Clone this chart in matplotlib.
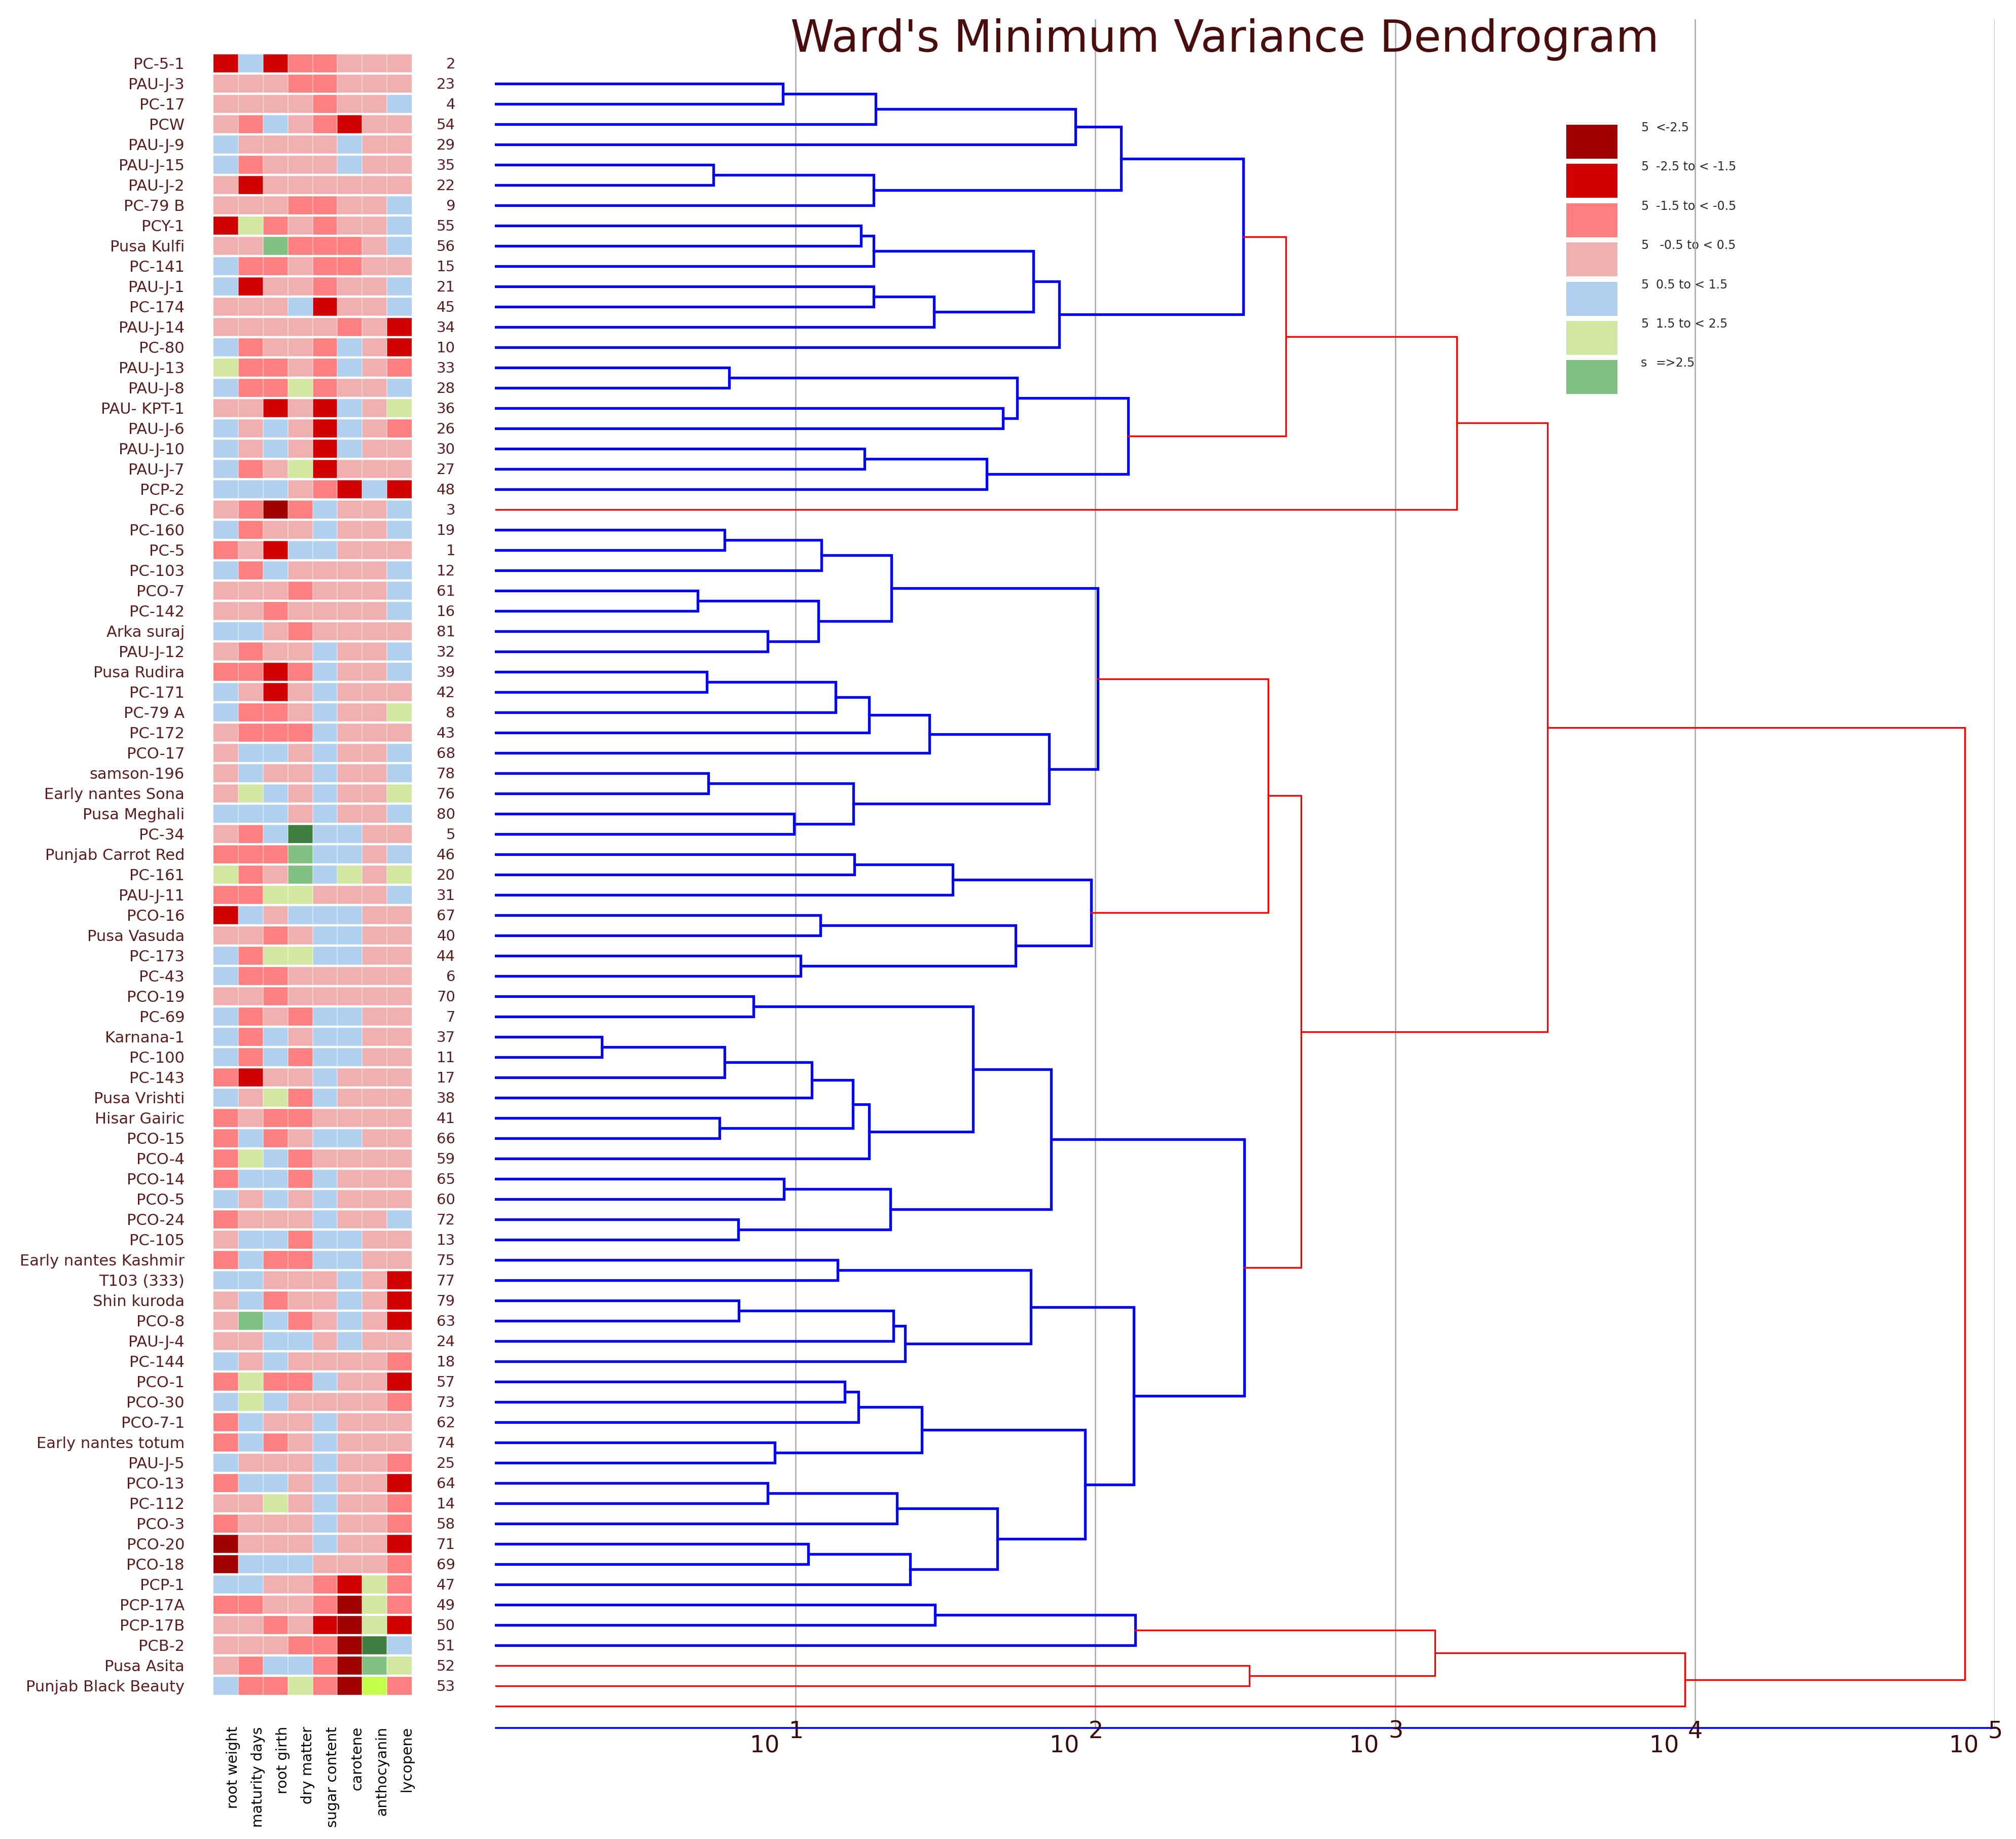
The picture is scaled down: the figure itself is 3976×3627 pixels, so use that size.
"""
Ward's minimum variance dendrogram with the standardised trait table beside it.

The table shows, for each genotype, the z-score class of eight root traits.
The tree is drawn by hand from a merge list (no scipy needed).
"""

import matplotlib
matplotlib.use("Agg")
import matplotlib.pyplot as plt
import numpy as np
from matplotlib.colors import BoundaryNorm, ListedColormap
from matplotlib.patches import Rectangle
from matplotlib.transforms import blended_transform_factory, offset_copy


TITLE = "Ward's Minimum Variance Dendrogram"

GENOTYPES = [
    "PC-5-1", "PAU-J-3", "PC-17", "PCW", "PAU-J-9", "PAU-J-15", "PAU-J-2", "PC-79 B",
    "PCY-1", "Pusa Kulfi", "PC-141", "PAU-J-1", "PC-174", "PAU-J-14", "PC-80",
    "PAU-J-13", "PAU-J-8", "PAU- KPT-1", "PAU-J-6", "PAU-J-10", "PAU-J-7", "PCP-2",
    "PC-6", "PC-160", "PC-5", "PC-103", "PCO-7", "PC-142", "Arka suraj", "PAU-J-12",
    "Pusa Rudira", "PC-171", "PC-79 A", "PC-172", "PCO-17", "samson-196",
    "Early nantes Sona", "Pusa Meghali", "PC-34", "Punjab Carrot Red", "PC-161",
    "PAU-J-11", "PCO-16", "Pusa Vasuda", "PC-173", "PC-43", "PCO-19", "PC-69",
    "Karnana-1", "PC-100", "PC-143", "Pusa Vrishti", "Hisar Gairic", "PCO-15",
    "PCO-4", "PCO-14", "PCO-5", "PCO-24", "PC-105", "Early nantes Kashmir",
    "T103 (333)", "Shin kuroda", "PCO-8", "PAU-J-4", "PC-144", "PCO-1", "PCO-30",
    "PCO-7-1", "Early nantes totum", "PAU-J-5", "PCO-13", "PC-112", "PCO-3",
    "PCO-20", "PCO-18", "PCP-1", "PCP-17A", "PCP-17B", "PCB-2", "Pusa Asita",
    "Punjab Black Beauty",
]

# serial number printed at the right of each row
CODES = [
    2, 23, 4, 54, 29, 35, 22, 9, 55, 56, 15, 21, 45, 34, 10, 33, 28, 36, 26, 30,
    27, 48, 3, 19, 1, 12, 61, 16, 81, 32, 39, 42, 8, 43, 68, 78, 76, 80, 5, 46,
    20, 31, 67, 40, 44, 6, 70, 7, 37, 11, 17, 38, 41, 66, 59, 65, 60, 72, 13, 75,
    77, 79, 63, 24, 18, 57, 73, 62, 74, 25, 64, 14, 58, 71, 69, 47, 49, 50, 51,
    52, 53,
]

TRAITS = ["root weight", "maturity days", "root girth", "dry matter",
          "sugar content", "carotene", "anthocyanin", "lycopene"]

# z-score class of each cell, one digit per trait:
# 0 <-2.5, 1 -2.5..-1.5, 2 -1.5..-0.5, 3 -0.5..0.5, 4 0.5..1.5, 5 1.5..2.5,
# 6 =>2.5, 7 and 8 are the two extra greens seen in the table
CELLS = [
    "14122333", "33322333", "33332334", "32432133", "43333433", "42333433",
    "31333333", "33322334", "15232334", "33622234", "42232233", "41332334",
    "33341334", "33333231", "42332431", "52232432", "42252334", "33131435",
    "43431432", "43431433", "42351333", "44432141", "32024334", "42334334",
    "23144333", "42433334", "33323334", "33233334", "44323333", "32334334",
    "22124334", "43134333", "42234335", "32224333", "34434334", "34334334",
    "35434335", "44434334", "32474433", "22264434", "52364535", "22553334",
    "14344433", "33234433", "42554433", "42233333", "33233333", "42324433",
    "42434433", "42424433", "21334333", "43524333", "23223333", "24234433",
    "25423333", "24424333", "43434333", "23334334", "34424433", "24224433",
    "44333431", "34233431", "36423431", "33443433", "43433332", "25224331",
    "45433332", "24334333", "24234333", "43334332", "24434331", "33534332",
    "23334332", "03334331", "04443332", "44332152", "22332052", "33231051",
    "33322074", "32442065", "42252082",
]

BIN_COLORS = ["#a00000", "#d00000", "#ff8080", "#f0b0b0", "#b0d0f0",
              "#d2e8a0", "#80c080", "#3e7e3e", "#c4ff4c"]

LEGEND_PREFIX = ["5", "5", "5", "5", "5", "5", "s"]
LEGEND_LABELS = ["<-2.5", "-2.5 to < -1.5", "-1.5 to < -0.5", " -0.5 to < 0.5",
                 "0.5 to < 1.5", "1.5 to < 2.5", "=>2.5"]

# tree: (name, left, right, height); ints are leaves counted from the top
MERGES = [
    ("a1", 0, 1, 9.08), ("a2", "a1", 2, 18.5), ("a3", "a2", 3, 85.7),
    ("b1", 4, 5, 5.32), ("b2", "b1", 6, 18.2), ("c1", "a3", "b2", 122),
    ("d1", 7, 8, 16.5), ("d2", "d1", 9, 18.2), ("e1", 10, 11, 18.2),
    ("e2", "e1", 12, 28.9), ("f1", "d2", "e2", 62.1), ("f2", "f1", 13, 75.7),
    ("g1", "c1", "f2", 311),
    ("h1", 14, 15, 6.01), ("h2", 16, 17, 49.2), ("h3", "h1", "h2", 54.8),
    ("i1", 18, 19, 17.0), ("i2", "i1", 20, 43.4), ("j1", "h3", "i2", 128.5),
    ("k1", 22, 23, 5.79), ("k2", "k1", 24, 12.2), ("l1", 25, 26, 4.71),
    ("l2", 27, 28, 8.05), ("l3", "l1", "l2", 11.9), ("m1", "k2", "l3", 20.9),
    ("n1", 29, 30, 5.06), ("n2", "n1", 31, 13.6), ("n3", "n2", 32, 17.6),
    ("n4", "n3", 33, 27.9), ("o1", 34, 35, 5.12), ("o2", 36, 37, 9.89),
    ("o3", "o1", "o2", 15.6), ("p1", "n4", "o3", 70.0), ("q1", "m1", "p1", 102),
    ("r1", 38, 39, 15.7), ("r2", "r1", 40, 33.4), ("s1", 41, 42, 12.1),
    ("s2", 43, 44, 10.4), ("s3", "s1", "s2", 54.2), ("t1", "r2", "s3", 96.6),
    ("qt", "q1", "t1", 377),
    ("u1", 45, 46, 7.24), ("u2", 47, 48, 2.26), ("u3", "u2", 49, 5.79),
    ("u4", "u3", 50, 11.3), ("u5", 51, 52, 5.58), ("u6", "u4", "u5", 15.5),
    ("u7", "u6", 53, 17.6), ("u8", "u1", "u7", 39.0),
    ("v1", 54, 55, 9.14), ("v2", 56, 57, 6.43), ("v3", "v1", "v2", 20.7),
    ("w1", "u8", "v3", 71.1),
    ("x1", 58, 59, 13.8), ("x2", 60, 61, 6.46), ("x3", "x2", 62, 21.2),
    ("x4", "x3", 63, 23.2), ("x5", "x1", "x4", 61.0),
    ("y1", 64, 65, 14.6), ("y2", "y1", 66, 16.2), ("y3", 67, 68, 8.53),
    ("y4", "y2", "y3", 26.4), ("z1", 69, 70, 8.05), ("z2", "z1", 71, 21.8),
    ("z3", 72, 73, 11.0), ("z4", "z3", 74, 24.1), ("z5", "z2", "z4", 47.0),
    ("aa1", "y4", "z5", 92.3), ("aa2", "x5", "aa1", 134),
    ("ab1", "w1", "aa2", 314),
    ("ac1", 75, 76, 29.2), ("ac2", "ac1", 77, 136), ("ad1", 78, 79, 326),
    ("ra", "g1", "j1", 431), ("rb", "ra", 21, 1607), ("rd", "qt", "ab1", 485),
    ("re", "rb", "rd", 3221), ("rf", "ac2", "ad1", 1358), ("rg", "rf", 80, 9268),
    ("root", "re", "rg", 79430),
]

CUT = 320  # links above this height are red
TICKS = [1e1, 1e2, 1e3, 1e4, 1e5]


# --- layout (in pixels of the 3976 x 3627 picture) ---------------------------
W, H = 3976, 3627
ROW0_PX, ROW_PX = 125.4, 40.0      # centre of first table row, row pitch
TOP_PX, AXIS_PX = 38, 3408         # top of grid lines, blue axis line
PT = 72 / 100                      # points per pixel at dpi 100

LABEL_COLOR = "#5a1e1e"
TICK_COLOR = "#3b0b0b"


def row_of(py):
    return (py - ROW0_PX) / ROW_PX


def box(x0, x1):
    return [x0 / W, 1 - AXIS_PX / H, (x1 - x0) / W, (AXIS_PX - TOP_PX) / H]


fig = plt.figure(figsize=(W / 100, H / 100), dpi=100)

# canvas in pixel units, used for the legend
canvas = fig.add_axes([0, 0, 1, 1], zorder=0)
canvas.set_xlim(0, W)
canvas.set_ylim(H, 0)
canvas.axis("off")

# --- heatmap -----------------------------------------------------------------
n = len(GENOTYPES)
ax_h = fig.add_axes(box(421, 812), zorder=1)
grid = np.array([[int(c) for c in row] for row in CELLS])
cmap = ListedColormap(BIN_COLORS)
norm = BoundaryNorm(np.arange(len(BIN_COLORS) + 1) - 0.5, len(BIN_COLORS))
ax_h.pcolormesh(np.arange(len(TRAITS) + 1), np.arange(n + 1) - 0.5, grid,
                cmap=cmap, norm=norm)
ax_h.hlines(np.arange(n + 1) - 0.5, 0, len(TRAITS), color="white", lw=3.2)
ax_h.vlines(np.arange(1, len(TRAITS)), -0.5, n - 0.5, color="white", lw=1.2, alpha=0.5)
ax_h.set_xlim(0, len(TRAITS))
ax_h.set_ylim(row_of(AXIS_PX), row_of(TOP_PX))
ax_h.axis("off")

for r, (name, code) in enumerate(zip(GENOTYPES, CODES)):
    ax_h.annotate(name, (0, r), xytext=(-57 * PT, -2 * PT), textcoords="offset points",
                  ha="right", va="center", fontsize=22, color=LABEL_COLOR)
    ax_h.annotate(str(code), (len(TRAITS), r), xytext=(86 * PT, -2 * PT),
                  textcoords="offset points", ha="right", va="center",
                  fontsize=21, color=LABEL_COLOR)

for i, trait in enumerate(TRAITS):
    ax_h.text(i + 0.8, row_of(3405), trait, rotation=90, ha="center", va="top",
              fontsize=20.5, color="black")

# --- dendrogram --------------------------------------------------------------
ax_d = fig.add_axes(box(978, 3934), zorder=2)
ax_d.patch.set_visible(False)
ax_d.set_xscale("log")
ax_d.set_xlim(1, 1e5)
ax_d.set_ylim(row_of(AXIS_PX), row_of(TOP_PX))

pos, hgt = {}, {}
for i in range(n):
    # in the original the tree sits one row lower than the table
    pos[i] = i + 1
    hgt[i] = 1.0

for name, a, b, h in MERGES:
    above = h >= CUT
    ya, yb = pos[a], pos[b]
    ax_d.plot([hgt[a], h, h, hgt[b]], [ya, ya, yb, yb],
              color="#ff0000" if above else "#0000ff",
              lw=2.4 if above else 3.8, solid_joinstyle="miter",
              clip_on=False, zorder=3)
    pos[name] = (ya + yb) / 2
    hgt[name] = h

ax_d.set_xticks(TICKS)
ax_d.xaxis.set_minor_locator(plt.NullLocator())
ax_d.set_yticks([])
ax_d.tick_params(length=0, labelbottom=False, labelleft=False)
ax_d.grid(axis="x", color="#a9a9a9", lw=1.8)
ax_d.set_axisbelow(True)
for side in ("top", "left", "right"):
    ax_d.spines[side].set_visible(False)
ax_d.spines["bottom"].set_color("#0000ff")
ax_d.spines["bottom"].set_linewidth(2.6)

base = blended_transform_factory(ax_d.transData, ax_d.transAxes)
for t in TICKS:
    k = int(round(np.log10(t)))
    ax_d.text(t, 0, str(k), transform=offset_copy(base, fig, x=1, y=-7, units="dots"),
              ha="center", va="center", fontsize=33, color=TICK_COLOR, zorder=4)
    ax_d.text(t, 0, "10", transform=offset_copy(base, fig, x=-61, y=-36, units="dots"),
              ha="center", va="center", fontsize=33, color=TICK_COLOR, zorder=4)

# --- legend ------------------------------------------------------------------
for k, (pre, lab) in enumerate(zip(LEGEND_PREFIX, LEGEND_LABELS)):
    top = 246 + 77.4 * k
    canvas.add_patch(Rectangle((3089, top), 101, 67, facecolor=BIN_COLORS[k],
                               edgecolor="none"))
    canvas.text(3236, top + 6, pre, ha="left", va="center", fontsize=17, color="#2b2b2b")
    canvas.text(3266, top + 6, lab, ha="left", va="center", fontsize=17, color="#2b2b2b")

fig.text(2415 / W, 1 - 102 / H, TITLE, ha="center", va="baseline",
         fontsize=63, color="#4a0d0d", zorder=5)

fig.savefig("out.png", dpi=100)
plt.close(fig)
